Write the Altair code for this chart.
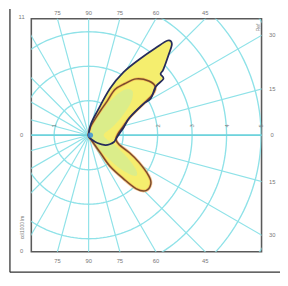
import math
import altair as alt
import pandas as pd

# ---- data (polar angle in degrees, radius in grid units) ----
outer_theta = [90, 78, 70, 65.4, 61, 56.3, 52.5, 50.1, 47.6, 45, 41.4, 40.4, 37, 35.9, 30.7, 29.7,
               23.2, 12.5, 3.6, -8, -15, -22, -30.5, -41.6, -55, -90]
outer_r = [0.05, 0.35, 0.75, 1.49, 2.09, 2.64, 3.19, 3.58, 3.58, 3.27, 2.89, 2.74, 2.72, 2.40, 2.10, 1.82,
           1.29, 1.04, 0.90, 0.80, 0.76, 0.68, 0.56, 0.34, 0.15, 0.03]

inner_theta = [85, 75, 64.4, 61.5, 60.1, 55.1, 49.8, 42, 36, 32.5, 29.7, 23.2, 12.5, 3.6, -8, -17,
               -23.2, -28.3, -34.1, -38, -44, -48.3, -51.3, -55.5, -56.3, -60, -90]
inner_r = [0.08, 0.3, 0.78, 1.12, 1.53, 1.82, 2.14, 2.35, 2.39, 2.20, 1.82, 1.29, 1.0, 0.86, 0.80, 0.92,
           1.29, 1.66, 2.11, 2.29, 2.31, 2.08, 1.62, 1.09, 0.61, 0.2, 0.03]

core_theta = [66, 60, 55, 50, 45, 40, 35, 28, 18, 5, -10, -22, -30, -36, -41, -46, -50, -55]
core_r = [0.3, 0.9, 1.45, 1.75, 1.8, 1.65, 1.4, 1.05, 0.7, 0.45, 0.5, 0.85, 1.3, 1.7, 1.8, 1.4, 0.8, 0.2]

grid_radii = [1, 2, 3, 4, 5, 6]
radial_angles = list(range(0, 360, 15))

radius_labels_pos = [-1, 2, 3, 4, 5]
radius_labels = ["1", "2", "3", "4", "5"]
top_angles = [105, 90, 75, 60, 45]
top_labels = ["75", "90", "75", "60", "45"]
right_angles = [30, 15, 0, -15, -30]
right_labels = ["30", "15", "0", "15", "30"]

XD = [-1.662, 5.014]
YD = [-3.38, 3.38]

xs = alt.Scale(domain=XD, nice=False, zero=False)
ys = alt.Scale(domain=YD, nice=False, zero=False)


def polar_df(theta, r):
    return pd.DataFrame({
        "i": list(range(len(theta))),
        "x": [ri * math.cos(math.radians(t)) for t, ri in zip(theta, r)],
        "y": [ri * math.sin(math.radians(t)) for t, ri in zip(theta, r)],
    })


# grid circles
rows = []
for R in grid_radii:
    for k, a in enumerate(range(0, 362, 2)):
        rows.append({"R": R, "i": k, "x": R * math.cos(math.radians(a)), "y": R * math.sin(math.radians(a))})
circ_df = pd.DataFrame(rows)
rad_df = pd.DataFrame({
    "x0": [0.0] * len(radial_angles), "y0": [0.0] * len(radial_angles),
    "x1": [8 * math.cos(math.radians(a)) for a in radial_angles],
    "y1": [8 * math.sin(math.radians(a)) for a in radial_angles],
})

GRID = "#8fe2e8"
X = lambda f="x": alt.X(f"{f}:Q", scale=xs, axis=None)
Y = lambda f="y": alt.Y(f"{f}:Q", scale=ys, axis=None)

circles = alt.Chart(circ_df).mark_line(clip=True, color=GRID, strokeWidth=1.4).encode(
    x=X(), y=Y(), detail="R:N", order="i:Q")
radials = alt.Chart(rad_df).mark_rule(clip=True, color=GRID, strokeWidth=1.2).encode(
    x=X("x0"), y=Y("y0"), x2="x1:Q", y2="y1:Q")
haxis = alt.Chart(pd.DataFrame({"a": [XD[0]], "b": [XD[1]], "y": [0.0]})).mark_rule(
    color="#6fd3dc", strokeWidth=1.8).encode(x=X("a"), x2="b:Q", y=Y())

outer_df = polar_df(outer_theta, outer_r)
inner_df = polar_df(inner_theta, inner_r)
core_df = polar_df(core_theta, core_r)

fill_outer = alt.Chart(outer_df).mark_line(interpolate="cardinal-closed", fill="#f5ee6e", stroke=None,
                                           strokeWidth=0).encode(x=X(), y=Y(), order="i:Q")
fill_inner = alt.Chart(inner_df).mark_line(interpolate="cardinal-closed", fill="#f5ee6e", stroke=None,
                                           strokeWidth=0).encode(x=X(), y=Y(), order="i:Q")
fill_core = alt.Chart(core_df).mark_line(interpolate="cardinal-closed", fill="#d2ec94", fillOpacity=0.75,
                                         stroke=None, strokeWidth=0).encode(x=X(), y=Y(), order="i:Q")
halo_inner = alt.Chart(inner_df).mark_line(interpolate="cardinal-closed", color="#f2a04a",
                                           strokeWidth=3.0, opacity=0.6).encode(x=X(), y=Y(), order="i:Q")
line_inner = alt.Chart(inner_df).mark_line(interpolate="cardinal-closed", color="#7a4a2c",
                                           strokeWidth=1.5).encode(x=X(), y=Y(), order="i:Q")
line_outer = alt.Chart(outer_df).mark_line(interpolate="cardinal-closed", color="#262c5c",
                                           strokeWidth=1.8).encode(x=X(), y=Y(), order="i:Q")

center = alt.Chart(pd.DataFrame({"x": [0.05], "y": [0.0]})).mark_point(
    filled=True, color="#2f8fe0", size=30, opacity=0.8).encode(x=X(), y=Y())

TXT = "#777777"
rl_df = pd.DataFrame({"x": radius_labels_pos, "t": radius_labels})
rlab = alt.Chart(rl_df).mark_text(fontSize=6, color=TXT, angle=270, align="left", baseline="middle",
                                  dx=0).encode(x=X(), y=alt.value(112), text="t:N")
top_df = pd.DataFrame({"x": [YD[1] / math.tan(math.radians(a)) for a in top_angles], "t": top_labels})
toplab = alt.Chart(top_df).mark_text(fontSize=6, color=TXT).encode(x=X(), y=alt.value(-6), text="t:N")
botlab = alt.Chart(top_df).mark_text(fontSize=6, color=TXT).encode(x=X(), y=alt.value(250), text="t:N")
right_df = pd.DataFrame({"y": [XD[1] * math.tan(math.radians(a)) for a in right_angles], "t": right_labels})
rightlab = alt.Chart(right_df).mark_text(fontSize=6, color=TXT).encode(x=alt.value(248), y=Y(), text="t:N")

left_df = pd.DataFrame({"y": [-2, 120, 239], "t": ["11", "0", "0"]})
leftlab = alt.Chart(left_df).mark_text(fontSize=6, color=TXT).encode(
    x=alt.value(-10), y=alt.Y("y:Q", scale=None), text="t:N")
vtext = alt.Chart(pd.DataFrame({"t": ["cd/1000 lm"]})).mark_text(
    fontSize=5, color=TXT, angle=270).encode(x=alt.value(-10), y=alt.value(215), text="t:N")
vtext2 = alt.Chart(pd.DataFrame({"t": ["Ref"]})).mark_text(
    fontSize=5, color=TXT, angle=270).encode(x=alt.value(233), y=alt.value(9), text="t:N")

frame_l = alt.Chart(pd.DataFrame({"a": [0]})).mark_rule(color="#333", strokeWidth=1.3).encode(
    x=alt.value(-22), y=alt.value(-10), y2=alt.value(261))
frame_b = alt.Chart(pd.DataFrame({"a": [0]})).mark_rule(color="#333", strokeWidth=1.3).encode(
    x=alt.value(-22), x2=alt.value(260), y=alt.value(261))

chart = alt.layer(
    circles, radials, haxis,
    fill_outer, fill_inner, fill_core, halo_inner, line_inner, line_outer, center,
    rlab, toplab, botlab, rightlab, leftlab, vtext, vtext2, frame_l, frame_b,
).properties(
    width=237, height=240,
    autosize=alt.AutoSizeParams(type="none"),
    padding={"left": 24, "top": 7, "right": 19, "bottom": 24},
).configure_view(stroke="#5a5a5a", strokeWidth=1.6)

chart.save("out.html", embed_options={"renderer": "svg", "actions": False})
